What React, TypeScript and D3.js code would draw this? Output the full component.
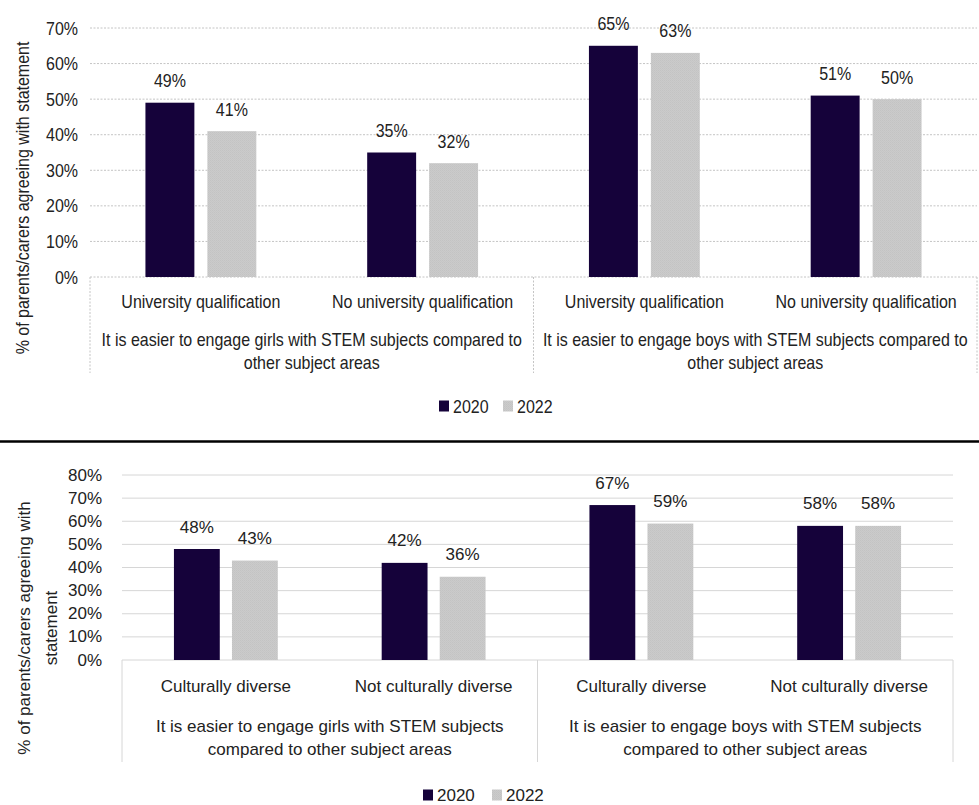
import React from "react";
import * as d3 from "d3";

// Series shared by both panels
const seriesNames = ["2020", "2022"];
const seriesColors = ["#15023a", "#c8c8c8"];

// Panel 1: parental qualification
const topSubLabels = ["University qualification", "No university qualification"];
const topGroupLines = [
  ["It is easier to engage girls with STEM subjects compared to", "other subject areas"],
  ["It is easier to engage boys with STEM subjects compared to", "other subject areas"],
];
const top2020 = [49, 35, 65, 51];
const top2022 = [41, 32, 63, 50];
const topTicks = [0, 10, 20, 30, 40, 50, 60, 70];

// Panel 2: cultural diversity
const bottomSubLabels = ["Culturally diverse", "Not culturally diverse"];
const bottomGroupLines = [
  ["It is easier to engage girls with STEM subjects", "compared to other subject areas"],
  ["It is easier to engage boys with STEM subjects", "compared to other subject areas"],
];
const bottom2020 = [48, 42, 67, 58];
const bottom2022 = [43, 36, 59, 58];
const bottomTicks = [0, 10, 20, 30, 40, 50, 60, 70, 80];

const yTitleTop = ["% of parents/carers agreeing with statement"];
const yTitleBottom = ["% of parents/carers agreeing with", "statement"];

const FONT = "'Liberation Sans', Arial, sans-serif";

type Layout = {
  left: number;
  right: number;
  top: number;
  bottom: number;
  yMax: number;
  boxBottom: number;
  subY: number;
  groupY: number;
  groupLineH: number;
  tickX: number;
  labelGap: number;
  titleX: number[];
  titleY: number;
  legendY: number;
  legendX: number;
  legendSwatchGap: number;
  legendItemStep: number;
  fontSize: number;
  sy: number;
  dotted: boolean;
  gridColor: string;
};

function T({
  x,
  y,
  children,
  anchor = "middle",
  size,
  sy,
  rotate = 0,
}: {
  x: number;
  y: number;
  children: React.ReactNode;
  anchor?: string;
  size: number;
  sy: number;
  rotate?: number;
}) {
  return (
    <text
      transform={`translate(${x},${y}) rotate(${rotate}) scale(1,${sy})`}
      textAnchor={anchor as any}
      dominantBaseline="central"
      fontFamily={FONT}
      fontSize={size}
      fill="#222"
    >
      {children}
    </text>
  );
}

function Panel({
  L,
  subLabels,
  groupLines,
  s2020,
  s2022,
  ticks,
  title,
}: {
  L: Layout;
  subLabels: string[];
  groupLines: string[][];
  s2020: number[];
  s2022: number[];
  ticks: number[];
  title: string[];
}) {
  const cats = [0, 1, 2, 3];
  const x0 = d3.scaleBand<number>().domain(cats).range([L.left, L.right]).padding(0);
  const bw = x0.bandwidth();
  const x1 = d3
    .scaleBand<string>()
    .domain(seriesNames)
    .range([-bw * 0.25, bw * 0.25])
    .paddingInner(0.21);
  const y = d3.scaleLinear().domain([0, L.yMax]).range([L.bottom, L.top]);
  const values = [s2020, s2022];
  const groupX = d3.scaleBand<number>().domain([0, 1]).range([L.left, L.right]);
  const dash = L.dotted ? "2,1.5" : undefined;
  const fs = L.fontSize;

  return (
    <g>
      {ticks.map((t) => (
        <g key={t}>
          <line
            x1={L.left}
            x2={L.right}
            y1={y(t)}
            y2={y(t)}
            stroke={L.gridColor}
            strokeWidth={1}
            strokeDasharray={dash}
          />
          <T x={L.tickX} y={y(t)} anchor="end" size={fs} sy={L.sy}>
            {t}%
          </T>
        </g>
      ))}
      {/* category box below the baseline */}
      {[L.left, groupX(1)!, L.right].map((gx, i) => (
        <line
          key={i}
          x1={gx}
          x2={gx}
          y1={L.bottom}
          y2={L.boxBottom}
          stroke={L.gridColor}
          strokeWidth={1}
          strokeDasharray={dash}
        />
      ))}
      {cats.map((c) =>
        seriesNames.map((s, si) => {
          const v = values[si][c];
          const bx = x0(c)! + bw / 2 + x1(s)!;
          return (
            <g key={`${c}-${s}`}>
              <rect
                x={bx}
                y={y(v)}
                width={x1.bandwidth()}
                height={L.bottom - y(v)}
                fill={si === 0 ? seriesColors[0] : "url(#greyTex)"}
              />
              <T x={bx + x1.bandwidth() / 2} y={y(v) - L.labelGap} size={fs} sy={L.sy}>
                {v}%
              </T>
            </g>
          );
        })
      )}
      {cats.map((c) => (
        <T key={c} x={x0(c)! + bw / 2} y={L.subY} size={fs} sy={L.sy}>
          {subLabels[c % 2]}
        </T>
      ))}
      {groupLines.map((lines, g) =>
        lines.map((ln, li) => (
          <T
            key={`${g}-${li}`}
            x={groupX(g)! + groupX.bandwidth() / 2}
            y={L.groupY + li * L.groupLineH}
            size={fs}
            sy={L.sy}
          >
            {ln}
          </T>
        ))
      )}
      {title.map((ln, i) => (
        <T key={i} x={L.titleX[i]} y={L.titleY} size={fs} sy={L.sy} rotate={-90}>
          {ln}
        </T>
      ))}
      {seriesNames.map((s, i) => {
        const lx = L.legendX + i * L.legendItemStep;
        return (
          <g key={s}>
            <rect
              x={lx}
              y={L.legendY - 5.5}
              width={10}
              height={11}
              fill={i === 0 ? seriesColors[0] : "url(#greyTex)"}
            />
            <T x={lx + L.legendSwatchGap} y={L.legendY} anchor="start" size={fs} sy={L.sy}>
              {s}
            </T>
          </g>
        );
      })}
    </g>
  );
}

const topLayout: Layout = {
  left: 90,
  right: 977,
  top: 28,
  bottom: 277,
  yMax: 70,
  boxBottom: 373,
  subY: 301,
  groupY: 339,
  groupLineH: 23,
  tickX: 78,
  labelGap: 22,
  titleX: [22],
  titleY: 198,
  legendY: 406,
  legendX: 439,
  legendSwatchGap: 14,
  legendItemStep: 64,
  fontSize: 16,
  sy: 1.2,
  dotted: true,
  gridColor: "#c4c4c4",
};

const bottomLayout: Layout = {
  left: 122,
  right: 953,
  top: 475,
  bottom: 660,
  yMax: 80,
  boxBottom: 762,
  subY: 686,
  groupY: 726,
  groupLineH: 23,
  tickX: 102,
  labelGap: 22,
  titleX: [24, 51],
  titleY: 628,
  legendY: 795,
  legendX: 423,
  legendSwatchGap: 14,
  legendItemStep: 69,
  fontSize: 17,
  sy: 1,
  dotted: false,
  gridColor: "#d6d6d6",
};

export default function App() {
  return (
    <svg
      width={979}
      height={805}
      style={{ position: "absolute", left: 0, top: 0, background: "#fff" }}
    >
      <defs>
        <pattern id="greyTex" width={2} height={2} patternUnits="userSpaceOnUse">
          <rect width={2} height={2} fill="#cbcbcb" />
          <rect width={1} height={1} fill="#c3c3c3" />
          <rect x={1} y={1} width={1} height={1} fill="#c6c6c6" />
        </pattern>
      </defs>
      <rect width={979} height={805} fill="#fff" />
      <Panel
        L={topLayout}
        subLabels={topSubLabels}
        groupLines={topGroupLines}
        s2020={top2020}
        s2022={top2022}
        ticks={topTicks}
        title={yTitleTop}
      />
      <line x1={0} x2={979} y1={441.5} y2={441.5} stroke="#000" strokeWidth={2.5} />
      <Panel
        L={bottomLayout}
        subLabels={bottomSubLabels}
        groupLines={bottomGroupLines}
        s2020={bottom2020}
        s2022={bottom2022}
        ticks={bottomTicks}
        title={yTitleBottom}
      />
    </svg>
  );
}
